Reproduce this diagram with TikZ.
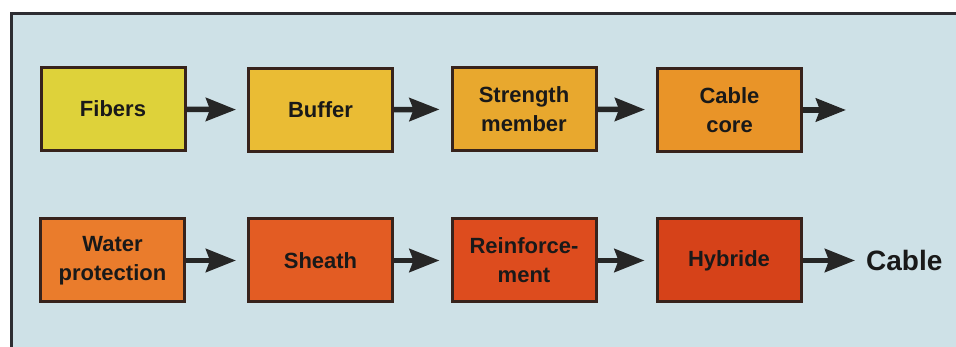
\documentclass[tikz,border=0pt]{standalone}
\usepackage{fontspec}
\setmainfont{Liberation Sans}
\usepackage{xcolor}
\definecolor{cbpanel}{RGB}{206,225,231}
\definecolor{cbframe}{RGB}{45,45,50}
\definecolor{cbedge}{RGB}{55,35,28}
\definecolor{cbfibers}{RGB}{222,210,58}
\definecolor{cbbuffer}{RGB}{234,188,52}
\definecolor{cbstrength}{RGB}{232,168,46}
\definecolor{cbcore}{RGB}{233,148,40}
\definecolor{cbwater}{RGB}{234,124,44}
\definecolor{cbsheath}{RGB}{227,92,35}
\definecolor{cbreinf}{RGB}{221,76,30}
\definecolor{cbhybride}{RGB}{214,66,25}
\usetikzlibrary{arrows.meta,positioning}

\begin{document}
\begin{tikzpicture}[x=1pt,y=-1pt,
    stage/.style={draw=cbedge, line width=3pt, minimum width=144pt, minimum height=83pt,
      align=center, inner sep=2pt, text=black!90,
      font=\bfseries\fontsize{22}{29}\selectfont},
    flow/.style={-{Stealth[length=30pt,width=23pt,inset=4pt]}, line width=5.5pt, black!85, shorten >=11pt}]
  \useasboundingbox (0,0) rectangle (956,347);

  %% Panel
  \fill[cbpanel] (11,14) rectangle (956,347);
  \draw[cbframe, line width=3pt] (11,347) -- (11,14) -- (956,14);

  %% First row
  \node[stage, fill=cbfibers]   (fib)  at (113,109)   {Fibers};
  \node[stage, fill=cbbuffer]   (buf)  at (320.5,110) {Buffer};
  \node[stage, fill=cbstrength] (str)  at (524,109)   {Strength\\member};
  \node[stage, fill=cbcore]     (core) at (729.5,110) {Cable\\core};
  \coordinate (coreout) at (857,110);

  \draw[flow] (fib)  -- (buf);
  \draw[flow] (buf)  -- (str);
  \draw[flow] (str)  -- (core);
  \draw[flow] (core) -- (coreout);

  %% Second row
  \node[stage, fill=cbwater]   (wat) at (112.5,260.5) {Water\\protection};
  \node[stage, fill=cbsheath]  (sh)  at (320.5,260.5) {Sheath};
  \node[stage, fill=cbreinf]   (rei) at (524,260.5)   {Reinforce-\\ment};
  \node[stage, fill=cbhybride] (hyb) at (729,260.5)   {Hybride};
  \node[font=\bfseries\fontsize{28}{32}\selectfont, text=black!90, anchor=west, inner sep=0pt]
    (cable) at (866,260.5) {Cable};

  \draw[flow] (wat) -- (sh);
  \draw[flow] (sh)  -- (rei);
  \draw[flow] (rei) -- (hyb);
  \draw[flow] (hyb) -- (cable);
\end{tikzpicture}
\end{document}
